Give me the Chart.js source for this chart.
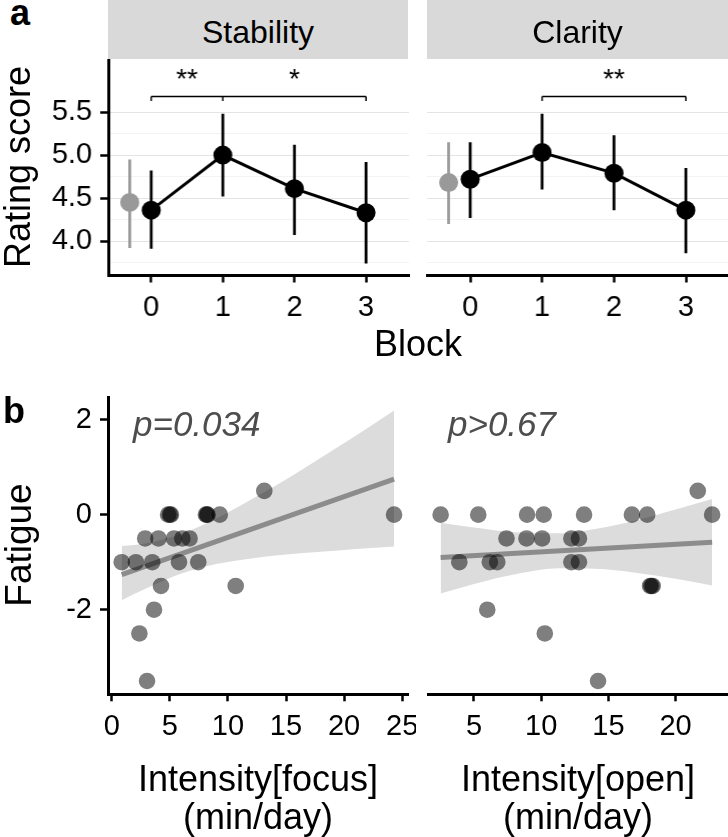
<!DOCTYPE html>
<html>
<head>
<meta charset="utf-8">
<script src="https://cdn.jsdelivr.net/npm/chart.js@4.4.1/dist/chart.umd.min.js"></script>
<style>
  body { margin: 0; background: #fff; width: 728px; height: 837px; position: relative; overflow: hidden;
         font-family: "Liberation Sans", Arial, sans-serif; }
  canvas { position: absolute; }
  .strip { position: absolute; background: #d9d9d9; }
  .t { position: absolute; white-space: nowrap; line-height: 1; color: #000; }
</style>
</head>
<body>
<div class="strip" style="left:108px;top:0;width:300px;height:59px"></div>
<div class="strip" style="left:427px;top:0;width:301px;height:59px"></div>
<canvas id="aStab" width="410" height="265" style="left:0;top:60px"></canvas>
<canvas id="aClar" width="318" height="265" style="left:410px;top:60px"></canvas>
<canvas id="bFocus" width="412" height="380" style="left:0;top:390px"></canvas>
<canvas id="bOpen" width="316" height="380" style="left:412px;top:390px"></canvas>
<script>
const FONT = '"Liberation Sans", Arial, sans-serif';
Chart.defaults.font.family = FONT;

// ---- panel a: rating by block ----
const blocks = [0, 1, 2, 3];
const stabilityMean = [4.36, 5.00, 4.61, 4.33];
const stabilityLow  = [3.91, 4.52, 4.07, 3.74];
const stabilityHigh = [4.82, 5.48, 5.12, 4.92];
const clarityMean = [4.72, 5.03, 4.79, 4.36];
const clarityLow  = [4.27, 4.60, 4.36, 3.86];
const clarityHigh = [5.15, 5.48, 5.23, 4.85];
const baselineX = -0.3;
const stabilityBase = [4.45, 3.92, 4.95]; // mean, low, high
const clarityBase = [4.68, 4.20, 5.15];
const ratingMajor = [4.0, 4.5, 5.0, 5.5];
const ratingMinor = [3.75, 4.25, 4.75, 5.25];

// significance brackets
const bracketY = 5.68, bracketDrop = 5.63, starY = 5.78;
const stabilitySpan = [0, 3], stabilityDrops = [0, 1, 3];
const stabilityStars = ['**', '*'], stabilityStarX = [0.5, 2];
const claritySpan = [1, 3], clarityDrops = [1, 3];
const clarityStars = ['**'], clarityStarX = [2];

// ---- panel b: fatigue vs intensity ----
const focusX = [0.86, 2.08, 3.49, 5.79, 7.45, 2.88, 4.02, 5.36, 6.08, 6.7,
                4.85, 5.0, 5.1, 8.1, 8.2, 8.25, 9.3, 13.13, 24.3, 4.24, 10.67, 3.64, 2.38, 3.04];
const focusY = [-1, -1, -1, -1, -1, -0.5, -0.5, -0.5, -0.5, -0.5,
                0, 0, 0, 0, 0, 0, 0, 0.5, 0, -1.5, -1.5, -2, -2.5, -3.5];
const openX = [2.52, 5.32, 8.95, 10.19, 13.19, 16.75, 17.89, 22.72, 21.65,
               7.42, 8.91, 10.07, 12.25, 12.81, 3.91, 6.18, 6.73, 12.25, 12.81,
               18.1, 18.2, 18.3, 5.99, 10.27, 14.23];
const openY = [0, 0, 0, 0, 0, 0, 0, 0, 0.5,
               -0.5, -0.5, -0.5, -0.5, -0.5, -1, -1, -1, -1, -1,
               -1.5, -1.5, -1.5, -2, -2.5, -3.5];
const focusFitX = [0.86, 24.3], focusFitY = [-1.26, 0.75];
const focusBandX = [0.86, 3, 6, 9, 12, 15, 18, 21, 24.3];
const focusBandLow = [-1.80, -1.55, -1.24, -1.04, -0.92, -0.84, -0.78, -0.72, -0.67];
const focusBandHigh = [-0.66, -0.60, -0.40, -0.08, 0.32, 0.74, 1.20, 1.66, 2.19];
const openFitX = [2.52, 22.72], openFitY = [-0.90, -0.58];
const openBandX = [2.52, 5, 8, 11.4, 14, 17, 20, 22.72];
const openBandLow = [-1.66, -1.46, -1.26, -1.13, -1.14, -1.22, -1.35, -1.49];
const openBandHigh = [-0.17, -0.27, -0.37, -0.39, -0.30, -0.12, 0.11, 0.33];
const fatigueTicks = [-2, 0, 2];
const focusTicks = [0, 5, 10, 15, 20, 25];
const openTicks = [5, 10, 15, 20];

const pts = (xs, ys) => xs.map((x, i) => ({x, y: ys[i]}));
function errorBars(xs, lo, hi) {
  const out = [];
  xs.forEach((x, i) => out.push({x, y: lo[i]}, {x, y: hi[i]}, {x, y: null}));
  return out;
}
function bracket(span, drops) {
  const out = [{x: span[0], y: bracketY}, {x: span[1], y: bracketY}, {x: span[1], y: null}];
  drops.forEach(d => out.push({x: d, y: bracketY}, {x: d, y: bracketDrop}, {x: d, y: null}));
  return out;
}

function xAxis(min, max, ticks, h) {
  return {
    type: 'linear', min, max,
    afterBuildTicks: s => { s.ticks = ticks.map(v => ({value: v})); },
    afterFit: s => { s.height = h; s.paddingLeft = 0; s.paddingRight = 0; },
    ticks: { autoSkip: false, maxRotation: 0, padding: 8, color: '#000', font: {size: 29},
             callback: v => String(v) },
    grid: { drawOnChartArea: false, drawTicks: true, tickLength: 7, tickColor: '#000', tickWidth: 2.5 },
    border: { display: true, color: '#000', width: 3 }
  };
}
function yAxis(min, max, major, minor, show, gridOn) {
  const all = major.concat(minor).sort((a, b) => a - b);
  return {
    type: 'linear', min, max,
    afterBuildTicks: s => { s.ticks = all.map(v => ({value: v})); },
    afterFit: s => { s.width = show ? 108 : 0; s.paddingTop = 0; s.paddingBottom = 0; },
    ticks: { display: show, autoSkip: false, padding: 8, color: '#000', font: {size: 29},
             callback: v => major.includes(v) ? (min > 0 ? v.toFixed(1) : String(v)) : '' },
    grid: {
      drawOnChartArea: gridOn, drawTicks: show, tickLength: 8, tickWidth: 2.5,
      color: c => (c.tick && major.includes(c.tick.value)) ? '#e4e4e4' : '#f3f3f3',
      tickColor: c => (c.tick && major.includes(c.tick.value)) ? '#000' : 'rgba(0,0,0,0)'
    },
    border: { display: show, color: '#000', width: 3 }
  };
}
function starsPlugin(labels, xs) {
  return {
    id: 'stars',
    afterDatasetsDraw(chart) {
      const {ctx, scales: {x, y}} = chart;
      ctx.save();
      ctx.font = '28px ' + FONT;
      ctx.fillStyle = '#000';
      ctx.textAlign = 'center';
      ctx.textBaseline = 'alphabetic';
      labels.forEach((t, i) => ctx.fillText(t, x.getPixelForValue(xs[i]), y.getPixelForValue(starY)));
      ctx.restore();
    }
  };
}
const common = (padding) => ({
  responsive: false, maintainAspectRatio: false, animation: false, events: [],
  layout: { padding },
  plugins: { legend: { display: false }, tooltip: { enabled: false } }
});

// move / resize a canvas until its plot area sits on the wanted pixels
function fitArea(chart, target) {
  const cv = chart.canvas;
  for (let k = 0; k < 3; k++) {
    const ca = chart.chartArea;
    const w = chart.width + (target.right - target.left) - (ca.right - ca.left);
    const h = chart.height + (target.bottom - target.top) - (ca.bottom - ca.top);
    cv.style.left = (target.left - ca.left) + 'px';
    cv.style.top = (target.top - ca.top) + 'px';
    if (Math.abs(w - chart.width) > 0.5 || Math.abs(h - chart.height) > 0.5) chart.resize(w, h);
  }
}

function ratingChart(id, mean, lo, hi, base, span, drops, stars, starX, showY, padLeft, padRight, target) {
  const chart = new Chart(document.getElementById(id), {
    type: 'line',
    data: { datasets: [
      { data: pts(blocks, mean), borderColor: '#000', borderWidth: 3, pointRadius: 9.5,
        pointBackgroundColor: '#000', pointBorderWidth: 0, order: 1 },
      { data: errorBars(blocks, lo, hi), borderColor: '#000', borderWidth: 2.8, pointRadius: 0,
        spanGaps: false, order: 2 },
      { data: [{x: baselineX, y: base[0]}], showLine: false, pointRadius: 9.5,
        pointBackgroundColor: '#999', pointBorderWidth: 0, order: 3 },
      { data: errorBars([baselineX], [base[1]], [base[2]]), borderColor: '#999', borderWidth: 2.8,
        pointRadius: 0, order: 4 },
      { data: bracket(span, drops), borderColor: '#000', borderWidth: 1.5, pointRadius: 0,
        spanGaps: false, order: 5 }
    ]},
    options: Object.assign(common({left: padLeft, right: padRight, top: 0, bottom: 0}), {
      scales: { x: xAxis(-0.6, 3.6, blocks, 50), y: yAxis(3.6, 6.1, ratingMajor, ratingMinor, showY, true) }
    }),
    plugins: [starsPlugin(stars, starX)]
  });
  fitArea(chart, target);
}

function fatigueChart(id, xs, ys, fitX, fitY, bandX, bandLo, bandHi, xmin, xmax, xticks, showY, padLeft, padRight, target) {
  const chart = new Chart(document.getElementById(id), {
    type: 'line',
    data: { datasets: [
      { data: pts(bandX, bandLo), borderColor: 'transparent', borderWidth: 0, pointRadius: 0,
        cubicInterpolationMode: 'monotone', fill: false, order: 3 },
      { data: pts(bandX, bandHi), borderColor: 'transparent', borderWidth: 0, pointRadius: 0,
        cubicInterpolationMode: 'monotone', fill: '-1', backgroundColor: '#dcdcdc', order: 3 },
      { data: pts(fitX, fitY), borderColor: '#8c8c8c', borderWidth: 5, pointRadius: 0, order: 2 },
      { data: pts(xs, ys), showLine: false, pointRadius: 8.3, pointBackgroundColor: 'rgba(0,0,0,0.5)',
        pointBorderWidth: 0, order: 1 }
    ]},
    options: Object.assign(common({left: padLeft, right: padRight, top: 7, bottom: 0}), {
      scales: { x: xAxis(xmin, xmax, xticks, 76), y: yAxis(-3.78, 2.47, fatigueTicks, [], showY, false) }
    })
  });
  fitArea(chart, target);
}

ratingChart('aStab', stabilityMean, stabilityLow, stabilityHigh, stabilityBase,
            stabilitySpan, stabilityDrops, stabilityStars, stabilityStarX, true, 0, 2,
            {left: 108, top: 60, right: 408, bottom: 275});
ratingChart('aClar', clarityMean, clarityLow, clarityHigh, clarityBase,
            claritySpan, clarityDrops, clarityStars, clarityStarX, false, 17, 0,
            {left: 427, top: 60, right: 728, bottom: 275});
fatigueChart('bFocus', focusX, focusY, focusFitX, focusFitY, focusBandX, focusBandLow, focusBandHigh,
             -0.32, 25.5, focusTicks, true, 0, 4, {left: 108, top: 397, right: 408, bottom: 694});
fatigueChart('bOpen', openX, openY, openFitX, openFitY, openBandX, openBandLow, openBandHigh,
             1.58, 23.9, openTicks, false, 16, 0, {left: 428, top: 397, right: 728, bottom: 694});

// ---- text ----
function addText(txt, x, base, size, opt = {}) {
  const d = document.createElement('div');
  d.className = 't';
  d.textContent = txt;
  d.style.fontSize = size + 'px';
  d.style.left = x + 'px';
  d.style.top = (base - 0.8465 * size) + 'px';
  if (opt.bold) d.style.fontWeight = 'bold';
  if (opt.italic) d.style.fontStyle = 'italic';
  if (opt.color) d.style.color = opt.color;
  if (opt.center) d.style.transform = 'translateX(-50%)';
  document.body.appendChild(d);
}
function addVText(txt, cx, cy, size) {
  const d = document.createElement('div');
  d.className = 't';
  d.textContent = txt;
  d.style.fontSize = size + 'px';
  d.style.left = cx + 'px';
  d.style.top = cy + 'px';
  d.style.transform = 'translate(-50%,-50%) rotate(-90deg)';
  document.body.appendChild(d);
}
addText('a', 10, 25, 36, {bold: true});
addText('b', 3, 423, 36, {bold: true});
addText('Stability', 258, 43, 32, {center: true});
addText('Clarity', 577.5, 43, 32, {center: true});
addText('Block', 418, 356, 36, {center: true});
addVText('Rating score', 18, 167, 36);
addVText('Fatigue', 18, 545, 37);
addText('p=0.034', 133, 436, 35, {italic: true, color: '#4d4d4d'});
addText('p>0.67', 448, 436, 35, {italic: true, color: '#4d4d4d'});
addText('Intensity[focus]', 258, 791, 36, {center: true});
addText('(min/day)', 258, 829, 36, {center: true});
addText('Intensity[open]', 578, 791, 36, {center: true});
addText('(min/day)', 578, 829, 36, {center: true});
</script>
</body>
</html>
